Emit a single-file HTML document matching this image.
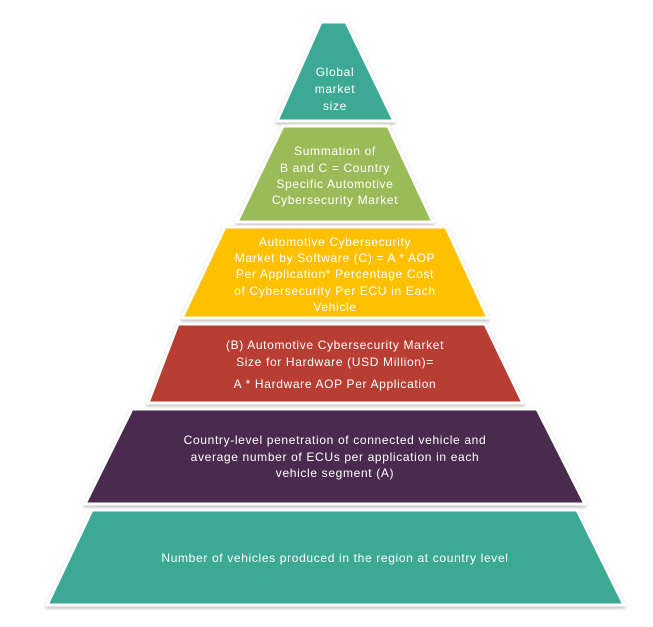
<!DOCTYPE html>
<html><head><style>
body{margin:0;background:#fff;width:653px;height:627px;overflow:hidden}
svg{display:block}
text{font-family:"Liberation Sans",sans-serif;font-size:12px;fill:#fff;text-anchor:middle;letter-spacing:0.65px}
</style></head><body>
<svg width="653" height="627" viewBox="0 0 653 627">
<defs><filter id="s" x="-10%" y="-10%" width="120%" height="130%"><feDropShadow dx="0" dy="2" stdDeviation="1.5" flood-color="#999" flood-opacity="0.6"/></filter></defs>
<g filter="url(#s)" stroke="#fff" stroke-width="3" stroke-linejoin="round">
<polygon points="321,22 346,22 394,121 277,121" fill="#3aa993"/>
<polygon points="283,126 388,126 433,222 237,222" fill="#9bbb59"/>
<polygon points="225,227 446,227 488,318 182,318" fill="#ffc000"/>
<polygon points="178,324 485,324 523,403 148,403" fill="#b83c33"/>
<polygon points="132,409 537,409 585,504 85,504" fill="#4b2c50"/>
<polygon points="92,510 577,510 624,605 47,605" fill="#3aa993"/>
</g>
<text x="335" y="76">Global</text>
<text x="335" y="93">market</text>
<text x="335" y="110">size</text>
<text x="335" y="155">Summation of</text>
<text x="335" y="172">B and C = Country</text>
<text x="335" y="188">Specific Automotive</text>
<text x="335" y="204">Cybersecurity Market</text>
<text x="335" y="246">Automotive Cybersecurity</text>
<text x="335" y="262">Market by Software (C) = A * AOP</text>
<text x="335" y="278">Per Application* Percentage Cost</text>
<text x="335" y="295">of Cybersecurity Per ECU in Each</text>
<text x="335" y="311">Vehicle</text>
<text x="335" y="349">(B) Automotive Cybersecurity Market</text>
<text x="335" y="366">Size for Hardware (USD Million)=</text>
<text x="335" y="388">A * Hardware AOP Per Application</text>
<text x="335" y="444">Country-level penetration of connected vehicle and</text>
<text x="335" y="461">average number of ECUs per application in each</text>
<text x="335" y="477">vehicle segment (A)</text>
<text x="335" y="562">Number of vehicles produced in the region at country level</text>
</svg>
</body></html>
